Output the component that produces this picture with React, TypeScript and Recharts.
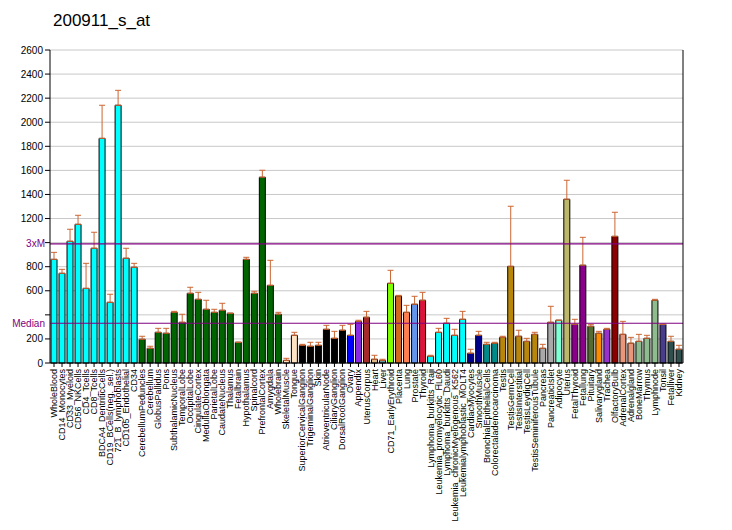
import {
  Bar,
  CartesianGrid,
  Cell,
  ComposedChart,
  ErrorBar,
  Line,
  ReferenceLine,
  XAxis,
  YAxis,
} from "recharts";

const tissues = [
  "WholeBlood", "CD14_Monocytes", "CD33_Myeloid", "CD56_NKCells", "CD4_Tcells",
  "CD8_Tcells", "BDCA4_DentriticCells", "CD19_BCells(neg._sel.)", "721_B_lymphoblasts",
  "CD105_Endothelial", "CD34", "CerebellumPeduncles", "Cerebellum", "GlobusPallidus",
  "Pons", "SubthalamicNucleus", "TemporalLobe", "OccipitalLobe", "CingulateCortex",
  "MedullaOblongata", "ParietalLobe", "CaudateNucleus", "Thalamus", "Fetalbrain",
  "Hypothalamus", "Spinalcord", "PrefrontalCortex", "Amygdala", "Wholebrain",
  "SkeletalMuscle", "Tongue", "SuperiorCervicalGanglion", "TrigeminalGanglion", "Skin",
  "AtrioventricularNode", "CiliaryGanglion", "DorsalRootGanglion", "Ovary", "Appendix",
  "UterusCorpus", "Heart", "Liver", "CD71_EarlyErythroid", "Placenta", "Lung",
  "Prostate", "Thyroid", "Lymphoma_burkitts_Raji", "Leukemia_promyelocytic_HL60",
  "Lymphoma_burkitts_Daudi", "Leukemia_chronicMyelogenous_K562",
  "Leukemialymphoblastic_MOLT4", "CardiacMyocytes", "SmoothMuscle",
  "BronchialEpithelialCells", "Colorectaladenocarcinoma", "Testis", "TestisGermCell",
  "TestisInterstitial", "TestisLeydigCell", "TestisSeminiferousTubule", "Pancreas",
  "PancreaticIslet", "Adipocyte", "Uterus", "FetalThyroid", "Fetallung", "Pituitary",
  "Salivarygland", "Trachea", "OlfactoryBulb", "AdrenalCortex", "Adrenalgland",
  "BoneMarrow", "Thymus", "Lymphnode", "Tonsil", "Fetalliver", "Kidney",
];

const values = [
  861, 745, 1011, 1152, 620, 953, 1866, 504, 2141, 870, 795,
  197, 122, 255, 247, 421, 338, 579, 529, 446, 421, 438, 413, 172, 861, 579, 1543, 645, 405,
  22, 230, 147, 139, 147, 280, 205, 272, 230, 346, 380, 31, 22,
  662, 556, 421, 488, 521, 56, 255, 330, 230, 363, 81, 230, 155, 164,
  213, 803, 222, 180, 238, 122, 338, 355, 1360, 321, 812, 305, 247, 280,
  1052, 238, 164, 180, 205, 521, 321, 180, 114,
];

// top of each error whisker
const errorTops = [
  919, 778, 1111, 1227, 828, 1086, 2141, 571, 2265, 953, 828,
  222, 139, 288, 288, 429, 405, 629, 587, 521, 446, 496, 413, 172, 878, 596, 1601, 853, 421,
  39, 255, 155, 172, 172, 313, 263, 313, 321, 355, 429, 64, 31,
  770, 562, 479, 554, 587, 64, 288, 371, 280, 429, 114, 263, 172, 172,
  222, 1302, 272, 205, 255, 155, 471, 355, 1518, 363, 1044, 321, 263, 288,
  1252, 346, 213, 238, 230, 529, 321, 222, 147,
];

const colors = [
  ...Array(11).fill("#00FFFF"),
  ...Array(18).fill("#006400"),
  "#FFE4C4", "#FFE4C4",
  ...Array(6).fill("#000000"),
  "#0000FF", "#8A2BE2", "#A52A2A", "#DEB887", "#5F9EA0", "#7FFF00", "#D2691E",
  "#FF7F50", "#6495ED", "#DC143C",
  ...Array(5).fill("#00FFFF"),
  "#00008B", "#00008B", "#008B8B", "#008B8B",
  ...Array(5).fill("#B8860B"),
  "#A9A9A9", "#A9A9A9", "#7FFFD4", "#BDB76B", "#8B008B", "#8B008B", "#556B2F",
  "#FF8C00", "#9932CC", "#8B0000", "#E9967A", "#E9967A", "#8FBC8F", "#8FBC8F",
  "#8FBC8F", "#483D8B", "#2F4F4F", "#2F4F4F",
];

const yTicks = [0, 200, 400, 600, 800, 1000, 1200, 1400, 1600, 1800, 2000, 2200, 2400, 2600];
const threeXM = 989;
const median = 330;

const data = tissues.map((name, i) => ({
  name,
  value: values[i],
  err: [0, errorTops[i] - values[i]],
}));

const font = "'Liberation Sans', Arial, sans-serif";

const XTick = (props: any) => {
  const { x, y, payload } = props;
  return (
    <text
      x={x}
      y={y}
      transform={`rotate(-90 ${x} ${y})`}
      textAnchor="end"
      dominantBaseline="central"
      fontSize={9}
      fontFamily={font}
      fill="#000"
    >
      {payload.value}
    </text>
  );
};

export default function App() {
  return (
    <div style={{ position: "absolute", left: 0, top: 0, width: 732, height: 530, background: "#fff" }}>
      <div
        style={{
          position: "absolute",
          left: 53,
          top: 11,
          fontFamily: font,
          fontSize: 17,
          color: "#000",
        }}
      >
        200911_s_at
      </div>
      <ComposedChart
        width={732}
        height={530}
        data={data}
        margin={{ top: 50, right: 0, bottom: 0, left: 0 }}
      >
        <CartesianGrid vertical={false} stroke="#C8C8C8" />
        <XAxis
          dataKey="name"
          interval={0}
          height={167}
          tickSize={4}
          tick={<XTick />}
          stroke="#000"
        />
        <YAxis
          domain={[0, 2600]}
          ticks={yTicks}
          width={50}
          tickSize={5}
          interval={0}
          stroke="#000"
          tick={{ fontSize: 10, fontFamily: font, fill: "#000" }}
          tickFormatter={(v: number) => (v === 1000 || v === 400 ? "" : String(v))}
        />
        <YAxis
          yAxisId="r"
          orientation="right"
          domain={[0, 2600]}
          ticks={yTicks}
          width={49}
          tickSize={5}
          interval={0}
          stroke="#000"
          tick={{ fontSize: 10, fontFamily: font, fill: "#000" }}
        />
        <Line
          dataKey="value"
          stroke="none"
          dot={false}
          activeDot={false}
          isAnimationActive={false}
        >
          <ErrorBar dataKey="err" width={3} stroke="#CC6633" strokeWidth={1} />
        </Line>
        <Bar dataKey="value" barSize={6} stroke="#000" strokeWidth={1} isAnimationActive={false}>
          {data.map((d, i) => (
            <Cell key={d.name} fill={colors[i]} />
          ))}
        </Bar>
        <ReferenceLine
          y={threeXM}
          stroke="#800080"
          strokeWidth={1.2}
          label={{ value: "3xM", position: "left", fill: "#800080", fontSize: 10, fontFamily: font }}
        />
        <ReferenceLine
          y={median}
          stroke="#800080"
          strokeWidth={1.2}
          label={{ value: "Median", position: "left", fill: "#800080", fontSize: 10, fontFamily: font }}
        />
      </ComposedChart>
    </div>
  );
}
